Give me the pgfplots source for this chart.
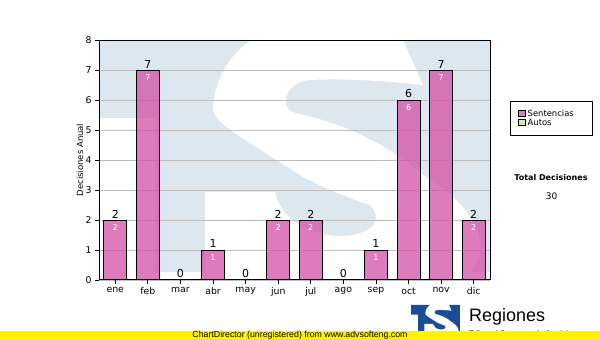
\documentclass[border=0pt]{standalone}
\usepackage{fontspec}
\setmainfont{DejaVu Sans}
\newfontfamily\arialf{Liberation Sans}
\usepackage{pgfplots}
\pgfplotsset{compat=1.18}
\definecolor{wmblue}{RGB}{221,231,240}
\definecolor{barpink}{RGB}{211,80,166}
\definecolor{legpink}{RGB}{222,122,188}
\definecolor{autosgreen}{RGB}{217,234,165}
\definecolor{logoblue}{RGB}{27,76,152}
\definecolor{gridgray}{RGB}{190,190,190}
% logo shape in local coords: square 391 x 232, y pointing down
\newcommand{\logoshape}[1]{%
  \fill[#1] (0,0) -- (391,0) -- (391,232) -- (56,232) -- (56,78) -- (0,78) -- cycle;
  \begin{scope}
  \clip (0,0) rectangle (391,232);
  \fill[white] (277,-60) -- (324,45)
    .. controls (296,42) and (251,38) .. (211,40)
    .. controls (186,42) and (179,68) .. (196,73)
    .. controls (241,82) and (291,105) .. (324,135)
    .. controls (351,152) and (379,175) .. (381,205)
    .. controls (383,235) and (351,260) .. (281,265)
    -- (106,265) -- (106,152) -- (176,152)
    .. controls (181,175) and (201,192) .. (236,196)
    .. controls (271,198) and (286,180) .. (271,165)
    .. controls (241,155) and (211,142) .. (196,132)
    .. controls (156,105) and (116,85) .. (114,70)
    .. controls (115,35) and (136,10) .. (153,0)
    .. controls (175,-30) and (230,-60) .. (277,-60) -- cycle;
  \end{scope}}
\begin{document}
\begin{tikzpicture}[x=1pt,y=1pt]
\fill[white] (0,0) rectangle (600,340);
\useasboundingbox (0,0) rectangle (600,340);
% watermark (image coordinates, y down)
\begin{scope}[shift={(0,340)}, yscale=-1]
  \begin{scope}[shift={(99,40)}]
    \logoshape{wmblue}
  \end{scope}
\end{scope}
\begin{axis}[
  at={(99pt,60pt)}, anchor=south west, scale only axis,
  width=391pt, height=240pt,
  xmin=-0.5, xmax=11.5, ymin=0, ymax=8,
  xtick={0,...,11},
  xticklabels={ene,feb,mar,abr,may,jun,jul,ago,sep,oct,nov,dic},
  ytick={0,...,8},
  tick align=outside, major tick length=4pt, tick pos=left,
  tick style={black, line width=0.8pt},
  axis line style={line width=1pt},
  ymajorgrids, grid style={gridgray, line width=0.8pt},
  ticklabel style={font=\fontsize{9.3}{10}\selectfont},
  ylabel={Decisiones Anual},
  ylabel style={font=\fontsize{8.5}{9}\selectfont, at={(axis description cs:-0.049,0.5)}, anchor=center},
  /pgf/number format/assume math mode=true,
]
\addplot[ybar, bar width=23pt, bar shift=0pt, fill=barpink, fill opacity=0.75, draw=black, line width=1pt,
  nodes near coords,
  every node near coord/.append style={font=\fontsize{11}{12}\selectfont, black, anchor=south, inner sep=1.5pt, text opacity=1}]
  coordinates {(0,2) (1,7) (2,0) (3,1) (4,0) (5,2) (6,2) (7,0) (8,1) (9,6) (10,7) (11,2)};
\addplot[ybar, bar width=23pt, bar shift=0pt, draw=none, fill=none,
  nodes near coords,
  every node near coord/.append style={font=\fontsize{8}{8}\selectfont, white, anchor=north, inner sep=0pt, yshift=-4pt}]
  coordinates {(0,2) (1,7) (3,1) (5,2) (6,2) (8,1) (9,6) (10,7) (11,2)};
\end{axis}
% legend
\draw[black, line width=0.7pt] (510.7,239) rectangle (592,204.3);
\draw[black, line width=0.6pt, fill=legpink] (518,230) rectangle (525,223.5);
\node[anchor=west, inner sep=0, font=\fontsize{8.4}{9}\selectfont] at (527.5,227) {Sentencias};
\draw[black, line width=0.6pt, fill=autosgreen] (518,220.7) rectangle (525,214.3);
\node[anchor=west, inner sep=0, font=\fontsize{8.4}{9}\selectfont] at (527.5,217.5) {Autos};
\node[inner sep=0, font=\bfseries\fontsize{8}{9}\selectfont] at (551,162) {Total Decisiones};
\node[inner sep=0, font=\fontsize{9}{10}\selectfont] at (551.5,143.3) {30};
% logo
\begin{scope}[shift={(0,340)}, yscale=-1]
  \begin{scope}[shift={(411,305)}, scale=0.125]
    \logoshape{logoblue}
  \end{scope}
\end{scope}
\node[anchor=base west, inner sep=0, font=\arialf\fontsize{18}{20}\selectfont] at (469,18) {Regiones};
\node[anchor=base west, inner sep=0, font=\arialf\fontsize{8}{9}\selectfont] at (469,3.5) {Tribunal Supremo de Justicia};
% footer
\fill[yellow] (0,0) rectangle (600,9);
\node[anchor=base, inner sep=0, font=\arialf\fontsize{8.8}{9}\selectfont] at (300,2) {ChartDirector (unregistered) from www.advsofteng.com};
\end{tikzpicture}
\end{document}
